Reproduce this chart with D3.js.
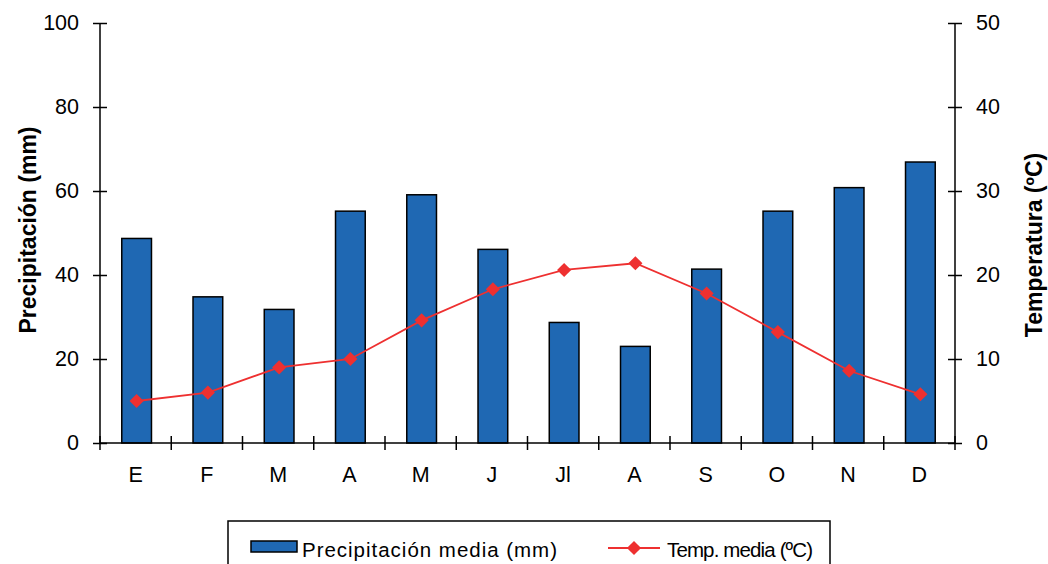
<!DOCTYPE html>
<html><head><meta charset="utf-8">
<script src="https://cdn.jsdelivr.net/npm/d3@7"></script>
<style>body{margin:0;background:#fff;}svg{display:block;font-family:"Liberation Sans",Arial,sans-serif;}</style>
</head><body>
<svg id="c" width="1048" height="564"></svg>
<script>
const months = ["E","F","M","A","M","J","Jl","A","S","O","N","D"];
const precip = [48.7,34.8,31.8,55.2,59.1,46.1,28.7,23.0,41.4,55.2,60.8,66.9];
const temp = [5.0,6.0,9.0,10.0,14.6,18.3,20.6,21.4,17.8,13.2,8.6,5.8];
const precipTicks = [0,20,40,60,80,100];
const tempTicks = [0,10,20,30,40,50];
const seriesNames = ["Precipitación media (mm)","Temp. media (ºC)"];

const svg = d3.select("#c");
const L=100,R=955,T=23,B=443;
const idx = months.map((d,i)=>i);
const x = d3.scaleBand().domain(idx).range([L,R]).paddingInner(0).paddingOuter(0);
const yP = d3.scaleLinear().domain([0,100]).range([B,T]);
const yT = d3.scaleLinear().domain([0,50]).range([B,T]);
const barW = x.bandwidth()*0.417;

// bars
svg.append("g").selectAll("rect").data(precip).join("rect")
  .attr("x",(d,i)=>x(i)+x.bandwidth()/2-barW/2+1)
  .attr("y",d=>yP(d)).attr("width",barW).attr("height",d=>B-yP(d))
  .attr("fill","#1f68b3").attr("stroke","#000").attr("stroke-width",1.5);

// axes
const axL = svg.append("g").attr("transform",`translate(${L},0)`)
  .call(d3.axisLeft(yP).tickValues(precipTicks).tickSize(7).tickPadding(14));
axL.selectAll(".tick line").attr("x2",7).attr("x1",-7);
const axR = svg.append("g").attr("transform",`translate(${R},0)`)
  .call(d3.axisRight(yT).tickValues(tempTicks).tickSize(7).tickPadding(14));
axR.selectAll(".tick line").attr("x1",-7).attr("x2",7);
const axB = svg.append("g").attr("transform",`translate(0,${B})`)
  .call(d3.axisBottom(x).tickFormat(i=>months[i]).tickSize(0).tickPadding(24));
// category boundary ticks
svg.append("g").selectAll("line").data(d3.range(13)).join("line")
  .attr("x1",i=>L+i*x.step()).attr("x2",i=>L+i*x.step())
  .attr("y1",B-7).attr("y2",B+7).attr("stroke","#000").attr("stroke-width",1.5);
[axL,axR,axB].forEach(a=>{
  a.selectAll("path.domain").attr("stroke","#000").attr("stroke-width",1.5);
  a.selectAll(".tick line").attr("stroke","#000").attr("stroke-width",1.5);
  a.selectAll("text").attr("font-size",21.5).attr("fill","#000").attr("font-family","Liberation Sans, Arial, sans-serif");
});
axR.select("path.domain").attr("d",`M0,${T}V${B}`);
axL.select("path.domain").attr("d",`M0,${T}V${B}`);
axB.select("path.domain").attr("d",`M${L},0H${R}`);

// temp line
const cx = i=>x(i)+x.bandwidth()/2+1;
svg.append("path").datum(temp)
  .attr("d",d3.line().x((d,i)=>cx(i)).y(d=>yT(d)))
  .attr("fill","none").attr("stroke","#ee3030").attr("stroke-width",1.8);
const dia = d3.symbol().type(d3.symbolSquare).size(100);
svg.append("g").selectAll("path").data(temp).join("path")
  .attr("transform",(d,i)=>`translate(${cx(i)},${yT(d)}) rotate(45)`)
  .attr("d",dia).attr("fill","#ee3030");

// axis titles
svg.append("text").attr("transform",`translate(36,230) rotate(-90)`)
  .attr("text-anchor","middle").attr("font-size",23).attr("font-weight","bold").text("Precipitación (mm)");
svg.append("text").attr("transform",`translate(1042,245) rotate(-90)`)
  .attr("text-anchor","middle").attr("font-size",23).attr("font-weight","bold").text("Temperatura (ºC)");

// legend
const lg = svg.append("g");
lg.append("rect").attr("x",228).attr("y",521).attr("width",602).attr("height",50)
  .attr("fill","#fff").attr("stroke","#000").attr("stroke-width",1.5);
lg.append("rect").attr("x",251).attr("y",541).attr("width",46).attr("height",11)
  .attr("fill","#1f68b3").attr("stroke","#000").attr("stroke-width",1.5);
lg.append("text").attr("x",302).attr("y",557).attr("font-size",20.5)
  .attr("textLength",255).attr("lengthAdjust","spacing").text(seriesNames[0]);
lg.append("line").attr("x1",608).attr("x2",660).attr("y1",548).attr("y2",548)
  .attr("stroke","#ee3030").attr("stroke-width",1.8);
lg.append("path").attr("transform","translate(634,548) rotate(45)").attr("d",dia).attr("fill","#ee3030");
lg.append("text").attr("x",667).attr("y",557).attr("font-size",20.5)
  .attr("textLength",146).attr("lengthAdjust","spacing").text(seriesNames[1]);
</script>
</body></html>
